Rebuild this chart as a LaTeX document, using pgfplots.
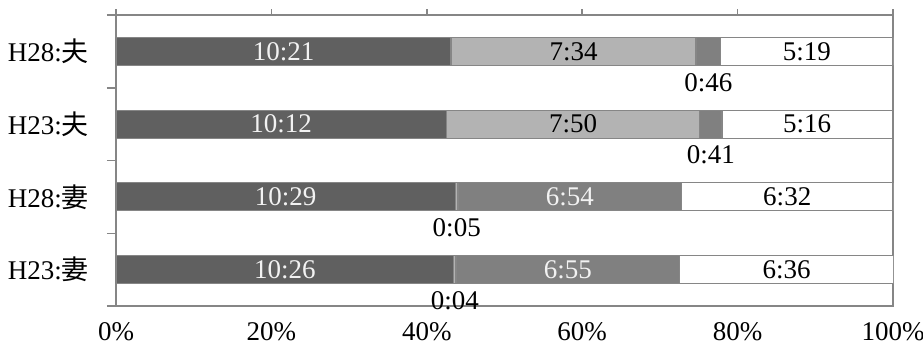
\documentclass[border=0pt]{standalone}
\usepackage{pgfplots}
\pgfplotsset{compat=1.18}
\usepackage{pgfplotstable}
\usepackage{fontspec}
\setmainfont{Liberation Serif}
\newfontfamily\jp{Noto Sans CJK JP}
\definecolor{axisgray}{RGB}{134,134,134}
\definecolor{segdark}{RGB}{96,96,96}
\definecolor{seglight}{RGB}{179,179,179}
\definecolor{segmid}{RGB}{128,128,128}
\definecolor{lbllight}{RGB}{242,242,242}

% minutes per activity
\pgfplotstableread{
y a b c d
1 626 4 415 396
2 629 5 414 392
3 612 470 41 316
4 621 454 46 319
}\bars

\pgfplotstableread{
x y l
310.5 4 10:21
306 3 10:12
314.5 2 10:29
313 1 10:26
841 2 6:54
837.5 1 6:55
}\wlabels

\pgfplotstableread{
x y l
848 4 7:34
1280.5 4 5:19
847 3 7:50
1281 3 5:16
1244 2 6:32
1243 1 6:36
}\blabels

\pgfplotstableread{
x y l
1098 4 0:46
1102.5 3 0:41
631.5 2 0:05
628 1 0:04
}\ulabels

\begin{document}
\begin{tikzpicture}
\path[use as bounding box] (-58pt,-19pt) rectangle (403.5pt,153pt);
\pgfplotsset{
  base/.style={
    scale only axis, width=388.5pt, height=145.5pt,
    xmin=0, xmax=1440, ymin=0.5, ymax=4.5,
  },
  lbl/.style={draw=none, mark=none, nodes near coords, point meta=explicit symbolic,
    every node near coord/.append style={anchor=center, font=\fontsize{13.5}{16}\selectfont, inner sep=0pt}},
}
\begin{axis}[base,
  xbar stacked, bar width=0.385,
  xtick={0,288,576,864,1152,1440},
  xticklabels={0\%,20\%,40\%,60\%,80\%,100\%},
  xtick pos=upper, xticklabel pos=lower,
  tick align=outside,
  ytick={1,2,3,4},
  yticklabels={{H23:{\jp 妻}},{H28:{\jp 妻}},{H23:{\jp 夫}},{H28:{\jp 夫}}},
  minor ytick={0.5,1.5,2.5,3.5,4.5},
  ytick pos=left,
  major tick length=3pt, minor tick length=4.5pt,
  major y tick style={draw=none},
  axis line style={draw=axisgray, line width=0.75pt},
  every tick/.style={axisgray, line width=0.75pt},
  tick label style={font=\fontsize{13.5}{16}\selectfont, black},
  xticklabel style={yshift=-1.5pt},
  yticklabel style={xshift=-7pt},
]
\addplot[fill=segdark, draw=axisgray, line width=0.6pt] table[x=a, y=y] {\bars};
\addplot[fill=seglight, draw=axisgray, line width=0.6pt] table[x=b, y=y] {\bars};
\addplot[fill=segmid, draw=axisgray, line width=0.6pt] table[x=c, y=y] {\bars};
\addplot[fill=white, draw=axisgray, line width=0.6pt] table[x=d, y=y] {\bars};
\end{axis}
\begin{axis}[base, hide axis]
\addplot[lbl, every node near coord/.append style={text=lbllight}] table[x=x, y=y, meta=l] {\wlabels};
\addplot[lbl, every node near coord/.append style={text=black}] table[x=x, y=y, meta=l] {\blabels};
\addplot[lbl, every node near coord/.append style={text=black, yshift=-15.5pt}] table[x=x, y=y, meta=l] {\ulabels};
\end{axis}
\end{tikzpicture}
\end{document}
